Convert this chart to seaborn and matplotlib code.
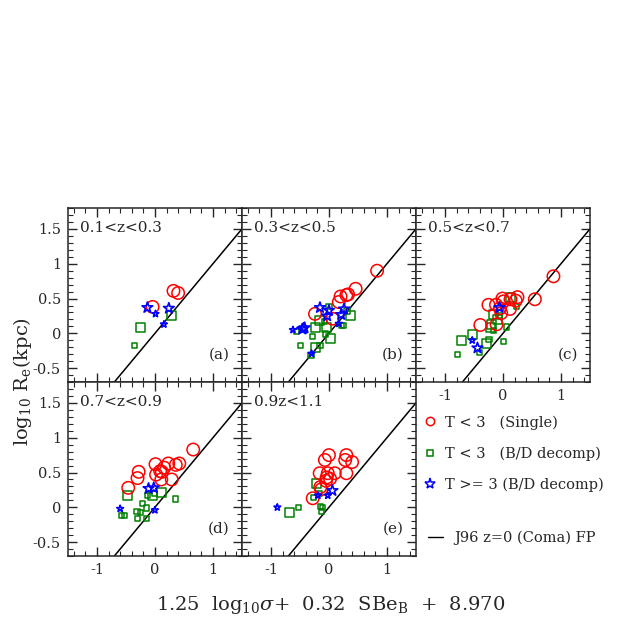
import numpy as np
import pandas as pd
import matplotlib
matplotlib.use('Agg')
import matplotlib.pyplot as plt
from matplotlib.lines import Line2D
from matplotlib.ticker import MultipleLocator, FuncFormatter
import seaborn as sns

# redshift bins / panels
panels = ['a', 'b', 'c', 'd', 'e']
zlabels = ['0.1<z<0.3', '0.3<z<0.5', '0.5<z<0.7', '0.7<z<0.9', '0.9z<1.1']

# T < 3, single profile fits (red circles)
single_panel = ['a'] * 3 + ['b'] * 8 + ['c'] * 14 + ['d'] * 14 + ['e'] * 15
single_x = [0.32, 0.40, -0.04,
            0.83, 0.46, 0.33, 0.30, 0.20, 0.17, -0.24, 0.06,
            0.87, 0.55, 0.25, 0.22, 0.12, -0.01, 0.01, -0.12, -0.25, -0.05, -0.03, -0.11, -0.39, 0.13,
            0.66, 0.42, 0.36, 0.23, 0.16, 0.01, 0.09, 0.12, 0.02, 0.11, 0.29, -0.28, -0.30, -0.46,
            0.00, -0.07, 0.30, 0.28, 0.40, 0.30, 0.10, -0.02, -0.16, -0.04, 0.02, -0.05, -0.15, -0.13, -0.28]
single_y = [0.61, 0.58, 0.38,
            0.90, 0.64, 0.56, 0.55, 0.53, 0.45, 0.28, 0.21,
            0.82, 0.49, 0.52, 0.47, 0.35, 0.50, 0.46, 0.41, 0.41, 0.36, 0.29, 0.13, 0.12, 0.49,
            0.83, 0.63, 0.61, 0.63, 0.57, 0.62, 0.52, 0.51, 0.47, 0.40, 0.40, 0.51, 0.42, 0.28,
            0.75, 0.68, 0.75, 0.68, 0.65, 0.49, 0.49, 0.49, 0.49, 0.43, 0.41, 0.38, 0.29, 0.26, 0.13]

# T < 3, bulge/disk decomposition (green squares)
bd_panel = ['a'] * 3 + ['b'] * 17 + ['c'] * 16 + ['d'] * 14 + ['e'] * 8
bd_x = [0.28, -0.24, -0.35,
        0.00, -0.155, -0.07, -0.05, -0.24, -0.06, 0.02, -0.28, -0.24, -0.155, -0.49, -0.31, -0.56, 0.37, 0.25, 0.21, 0.31,
        0.13, 0.23, -0.16, -0.10, -0.19, -0.22, -0.17, 0.06, -0.53, -0.71, -0.24, -0.28, 0.01, -0.40, -0.78, -0.06,
        -0.48, 0.12, -0.13, -0.04, -0.01, 0.36, -0.21, -0.15, -0.31, -0.25, -0.57, -0.52, -0.30, -0.15,
        -0.21, -0.17, -0.27, -0.53, -0.68, -0.15, -0.11, -0.13]
bd_y = [0.26, 0.08, -0.17,
        0.39, 0.19, 0.17, 0.085, 0.085, -0.01, -0.08, -0.05, -0.20, -0.17, -0.18, -0.32, 0.03, 0.25, 0.11, 0.11, 0.32,
        0.51, 0.39, 0.27, 0.20, 0.13, 0.085, 0.04, 0.09, -0.01, -0.10, -0.09, -0.15, -0.12, -0.28, -0.30, 0.26,
        0.17, 0.22, 0.17, 0.17, 0.20, 0.12, 0.06, -0.01, -0.06, -0.08, -0.12, -0.12, -0.16, -0.16,
        0.34, 0.20, 0.14, 0.00, -0.08, 0.01, 0.00, -0.06]
bd_big = ['L', 'L', 'S',
          'S', 'L', 'S', 'L', 'L', 'S', 'L', 'S', 'L', 'S', 'S', 'S', 'S', 'L', 'S', 'S', 'S',
          'L', 'S', 'L', 'L', 'L', 'L', 'S', 'S', 'L', 'L', 'S', 'L', 'S', 'S', 'S', 'S',
          'L', 'L', 'S', 'L', 'S', 'S', 'S', 'S', 'S', 'S', 'S', 'S', 'S', 'S',
          'L', 'S', 'S', 'S', 'L', 'S', 'S', 'S']

# T >= 3, bulge/disk decomposition (blue stars)
late_panel = ['a'] * 4 + ['b'] * 11 + ['c'] * 3 + ['d'] * 4 + ['e'] * 4
late_x = [-0.13, 0.01, 0.24, 0.155,
          -0.155, 0.00, -0.03, 0.26, 0.21, 0.17, -0.44, -0.46, -0.42, -0.62, -0.30,
          -0.06, -0.53, -0.44,
          -0.11, -0.02, -0.60, 0.00,
          0.06, -0.02, -0.19, -0.89]
late_y = [0.37, 0.28, 0.36, 0.13,
          0.37, 0.33, 0.25, 0.35, 0.27, 0.14, 0.07, 0.06, 0.08, 0.05, -0.29,
          0.37, -0.10, -0.21,
          0.27, 0.28, -0.02, -0.04,
          0.24, 0.17, 0.17, 0.00]
late_big = ['L', 'S', 'L', 'S',
            'L', 'L', 'L', 'L', 'L', 'S', 'L', 'L', 'L', 'S', 'S',
            'L', 'S', 'L',
            'L', 'L', 'S', 'S',
            'L', 'S', 'S', 'S']

# J96 z=0 Coma fundamental plane
fp_slope = 1.0
fp_zero = 0.0

single = pd.DataFrame({'panel': single_panel, 'x': single_x, 'y': single_y})
bd = pd.DataFrame({'panel': bd_panel, 'x': bd_x, 'y': bd_y, 'big': bd_big})
late = pd.DataFrame({'panel': late_panel, 'x': late_x, 'y': late_y, 'big': late_big})

sns.set_style('ticks')
plt.rcParams['font.family'] = ['DejaVu Serif']
plt.rcParams['mathtext.fontset'] = 'dejavuserif'
plt.rcParams['axes.linewidth'] = 1.1

fig, axes = plt.subplots(2, 3, figsize=(6.23, 6.23), dpi=100, sharex=True, sharey=True)
fig.subplots_adjust(left=0.109, right=0.947, bottom=0.1075, top=0.666, wspace=0, hspace=0)
axs = axes.ravel()

fmt = FuncFormatter(lambda v, pos: '%g' % v if abs(v) > 1e-9 else '0')

for i, p in enumerate(panels):
    ax = axs[i]
    ax.axline((0, fp_zero), slope=fp_slope, color='black', lw=1.1, zorder=1)

    sns.scatterplot(data=single[single.panel == p], x='x', y='y', ax=ax,
                    marker='o', s=80, color='red', facecolors='none', edgecolor='red',
                    linewidth=1.1, legend=False, zorder=3)
    sns.scatterplot(data=bd[bd.panel == p], x='x', y='y', ax=ax, size='big',
                    sizes={'L': 42, 'S': 14}, marker='s', color='green',
                    facecolors='none', edgecolor='green', linewidth=1.1, legend=False, zorder=2)
    sns.scatterplot(data=late[late.panel == p], x='x', y='y', ax=ax, size='big',
                    sizes={'L': 65, 'S': 25}, marker='*', color='blue',
                    facecolors='none', edgecolor='blue', linewidth=1.2, legend=False, zorder=4)

    ax.set_xlim(-1.5, 1.5)
    ax.set_ylim(-0.7, 1.8)
    ax.xaxis.set_major_locator(MultipleLocator(1))
    ax.xaxis.set_minor_locator(MultipleLocator(0.2))
    ax.yaxis.set_major_locator(MultipleLocator(0.5))
    ax.yaxis.set_minor_locator(MultipleLocator(0.1))
    ax.xaxis.set_major_formatter(fmt)
    ax.yaxis.set_major_formatter(fmt)
    ax.tick_params(which='both', direction='in', top=True, right=True, labelsize=10.5, pad=5)
    ax.tick_params(which='major', length=6.5, width=1)
    ax.tick_params(which='minor', length=3.5, width=0.8)
    ax.set_xlabel('')
    ax.set_ylabel('')

    ax.text(0.07, 0.885, zlabels[i], transform=ax.transAxes, ha='left', va='center', fontsize=11)
    ax.text(0.93, 0.155, '(%s)' % p, transform=ax.transAxes, ha='right', va='center', fontsize=11)

axs[2].xaxis.set_tick_params(labelbottom=True)

# legend panel
lax = axs[5]
lax.axis('off')
handles = [
    Line2D([], [], ls='none', marker='o', ms=6, mfc='none', mec='red', mew=1.1),
    Line2D([], [], ls='none', marker='s', ms=5, mfc='none', mec='green', mew=1.1),
    Line2D([], [], ls='none', marker='*', ms=8, mfc='none', mec='blue', mew=1.1),
]
labels = ['T < 3   (Single)', 'T < 3   (B/D decomp)', 'T >= 3 (B/D decomp)']
leg1 = lax.legend(handles, labels, loc='upper left', bbox_to_anchor=(0.04, 0.81),
                  frameon=False, fontsize=10.5, handlelength=1.0, handletextpad=0.5,
                  labelspacing=1.15, borderaxespad=0, borderpad=0)
lax.add_artist(leg1)
lax.legend([Line2D([], [], color='black', lw=1)], ['J96 z=0 (Coma) FP'],
           loc='upper left', bbox_to_anchor=(0.07, 0.145), frameon=False, fontsize=10.5,
           handlelength=1.0, handletextpad=0.8, borderaxespad=0, borderpad=0)

fig.text(0.036, 0.387, r'log$_{10}$ R$_{\rm e}$(kpc)', rotation=90, ha='center', va='center', fontsize=14)
fig.text(0.53, 0.029, r'1.25  log$_{10}\sigma$+  0.32  SBe$_{\rm B}$  +  8.970', ha='center',
         va='center', fontsize=14)

fig.savefig('out.png', dpi=100)
